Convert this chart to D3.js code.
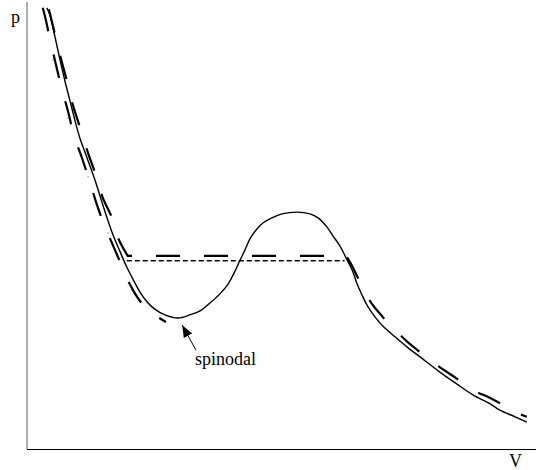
<!DOCTYPE html>
<html>
<head>
<meta charset="utf-8">
<script src="https://cdn.jsdelivr.net/npm/d3@7"></script>
<style>
  body { margin: 0; background: #fff; }
  svg { display: block; }
  text { font-family: "Liberation Serif", "DejaVu Serif", serif; fill: #000; }
</style>
</head>
<body>
<div id="canvas"></div>
<script>
// isotherm (solid)
const isoV = [0.39,0.45,0.55,0.65,0.75,0.84,0.94,1.04,1.18,1.34,1.49,1.67,1.83,1.96,2.10,2.22,2.36,2.51,2.71,2.97,
  3.20,3.40,3.60,3.79,3.95,4.07,4.18,4.28,4.38,4.50,4.64,4.81,5.01,5.30,5.56,5.72,5.89,6.01,6.15,6.27,
  6.39,6.48,6.58,6.68,6.84,6.99,7.23,7.47,7.78,8.11,8.45,8.76,9.10,9.29,9.59,9.82];
const isoP = [9.87,9.71,9.22,8.70,8.21,7.81,7.36,6.95,6.51,6.00,5.46,4.85,4.41,4.07,3.76,3.51,3.29,3.13,3.00,2.93,
  3.00,3.09,3.27,3.47,3.69,3.94,4.21,4.45,4.70,4.90,5.06,5.17,5.26,5.30,5.26,5.17,4.97,4.77,4.54,4.27,
  4.00,3.71,3.45,3.22,2.95,2.75,2.51,2.28,2.01,1.72,1.45,1.21,1.01,0.87,0.72,0.60];

// equilibrium curve with flat tie line (long dashes)
const eqV = [0.43,0.53,0.65,0.79,0.90,1.04,1.20,1.34,1.49,1.67,1.79,1.91,1.98,6.27,
  6.39,6.50,6.64,6.78,6.94,7.13,7.33,7.52,7.82,8.11,8.45,8.76,9.10,9.39,9.59,9.82];
const eqP = [9.84,9.37,8.81,8.21,7.70,7.20,6.62,6.17,5.62,5.17,4.72,4.45,4.32,4.32,
  4.09,3.83,3.51,3.24,3.02,2.77,2.55,2.35,2.08,1.83,1.57,1.32,1.14,0.96,0.83,0.72];

// metastable branch down to the spinodal (long dashes)
const metaV = [0.31,0.37,0.47,0.57,0.69,0.81,0.92,1.08,1.24,1.39,1.55,1.71,1.83,1.94,2.08,2.22,2.38,2.53,2.73];
const metaP = [9.87,9.60,9.08,8.59,8.03,7.54,7.02,6.51,5.95,5.41,4.92,4.50,4.18,3.87,3.56,3.31,3.11,2.98,2.84];

// short dashed tie line
const tieV = [1.96, 6.24];
const tieP = [4.21, 4.21];

// faint specks left of the curves
const speckV = [0.51, 0.81, 1.20, 1.59, 2.06];
const speckP = [8.70, 7.40, 6.09, 4.83, 3.56];

// annotation
const arrowV = [3.32, 3.05];
const arrowP = [2.21, 2.77];
const noteV = 3.30, noteP = 1.88, noteText = "spinodal";

const width = 536;
const height = 470;

const x = d3.scaleLinear().domain([0, 10]).range([27, 536]);
const y = d3.scaleLinear().domain([0, 10]).range([449, 2]);

const svg = d3.select("#canvas").append("svg")
  .attr("width", width)
  .attr("height", height);

const zip = (vs, ps) => vs.map((v, i) => [v, ps[i]]);

const line = d3.line()
  .x(d => x(d[0]))
  .y(d => y(d[1]))
  .curve(d3.curveCatmullRom.alpha(0.5));

const straight = d3.line()
  .x(d => x(d[0]))
  .y(d => y(d[1]));

// axes
svg.append("line")
  .attr("x1", x(0)).attr("x2", x(0))
  .attr("y1", y(10)).attr("y2", y(0))
  .attr("stroke", "#777").attr("stroke-width", 1.2);

svg.append("line")
  .attr("x1", x(0)).attr("x2", x(10))
  .attr("y1", y(0) + 0.5).attr("y2", y(0) + 0.5)
  .attr("stroke", "#000").attr("stroke-width", 1.2);

svg.append("text").attr("x", 11).attr("y", 23).attr("font-size", 18).text("p");
svg.append("text").attr("x", 509).attr("y", 467).attr("font-size", 18).text("V");

// specks
svg.selectAll("circle.speck").data(zip(speckV, speckP)).enter().append("circle")
  .attr("class", "speck")
  .attr("cx", d => x(d[0]))
  .attr("cy", d => y(d[1]))
  .attr("r", 0.8)
  .attr("fill", "#999");

// curves
svg.append("path")
  .attr("d", line(zip(isoV, isoP)))
  .attr("fill", "none").attr("stroke", "#000").attr("stroke-width", 1.4);

svg.append("path")
  .attr("d", straight(zip(tieV, tieP)))
  .attr("fill", "none").attr("stroke", "#000").attr("stroke-width", 1.5)
  .attr("stroke-dasharray", "5,3");

const eqPts = zip(eqV, eqP);
svg.append("path")
  .attr("d", line(eqPts.slice(0, 13)) + "L" + straight(eqPts.slice(12, 14)).slice(1) + line(eqPts.slice(13)).replace(/^M[^C]*/, ""))
  .attr("fill", "none").attr("stroke", "#000").attr("stroke-width", 2.2)
  .attr("stroke-dasharray", "24,24");

svg.append("path")
  .attr("d", line(zip(metaV, metaP)))
  .attr("fill", "none").attr("stroke", "#000").attr("stroke-width", 2.2)
  .attr("stroke-dasharray", "24,24");

// arrow
svg.append("defs").append("marker")
  .attr("id", "head")
  .attr("viewBox", "0 0 10 10")
  .attr("refX", 10).attr("refY", 5)
  .attr("markerWidth", 12).attr("markerHeight", 12)
  .attr("markerUnits", "userSpaceOnUse")
  .attr("orient", "auto")
  .append("path").attr("d", "M0,1 L10,5 L0,9 Z").attr("fill", "#000");

svg.append("line")
  .attr("x1", x(arrowV[0])).attr("y1", y(arrowP[0]))
  .attr("x2", x(arrowV[1])).attr("y2", y(arrowP[1]))
  .attr("stroke", "#000").attr("stroke-width", 1)
  .attr("marker-end", "url(#head)");

svg.append("text")
  .attr("x", x(noteV)).attr("y", y(noteP))
  .attr("font-size", 18)
  .text(noteText);
</script>
</body>
</html>
